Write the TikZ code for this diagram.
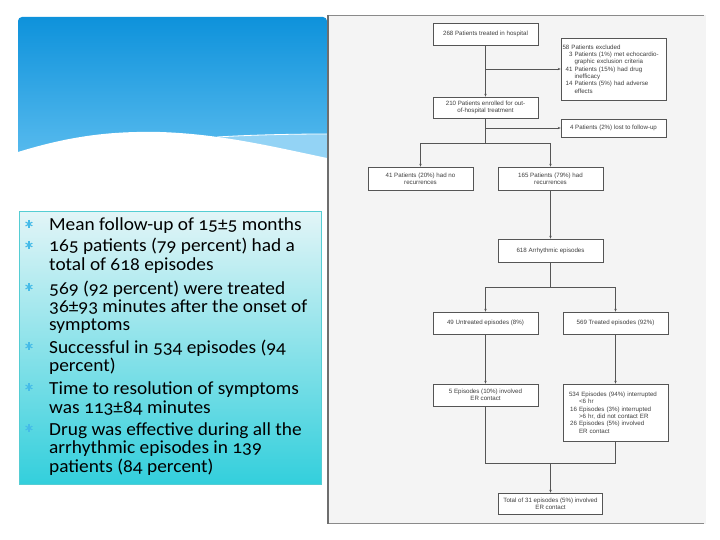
\documentclass[tikz,border=0pt]{standalone}
\usepackage{fontspec}
\setmainfont{Carlito}[Numbers=OldStyle, FakeStretch=1.05]
\newfontfamily\chartfont{Liberation Sans}
\usetikzlibrary{arrows.meta}
\definecolor{blueTop}{HTML}{0E92DB}
\definecolor{blueBot}{HTML}{5CBDEF}
\definecolor{stripBlue}{HTML}{93D3F5}
\definecolor{boxTop}{HTML}{E2F5F7}
\definecolor{boxBot}{HTML}{33CFDC}
\definecolor{boxEdge}{HTML}{55CDD3}
\definecolor{starBlue}{HTML}{45BBE8}
\definecolor{panelFill}{HTML}{F4F4F4}
\definecolor{panelEdge}{HTML}{8A8A8A}
\definecolor{chartLine}{HTML}{555555}
\definecolor{chartText}{HTML}{404040}
\begin{document}
\begin{tikzpicture}[x=1bp,y=-1bp,
  bl/.style={anchor=base west, inner sep=0pt, font=\fontsize{18.5}{20}\selectfont},
  star/.style={circle, inner sep=0pt, minimum size=9bp,
    path picture={\foreach \a in {90,30,-30}
      \draw[starBlue, line width=1.1bp] (path picture bounding box.center) ++(\a:4bp) -- ++(\a+180:8bp);}},
  fbox/.style={draw=chartLine, fill=white, line width=0.6bp, inner sep=1bp, align=center,
    text=chartText, font=\chartfont\fontsize{6.2}{7.4}\selectfont, minimum width=105bp},
  conn/.style={draw=chartLine, line width=0.6bp},
  arr/.style={conn, -{Stealth[length=3bp,width=2.4bp]}}]
\useasboundingbox (0,0) rectangle (720,540);
\fill[white] (0,0) rectangle (720,540);

% blue title band
\shade[top color=blueTop, bottom color=blueBot] (18,165) [rounded corners=4bp] -- (18,17) -- (327,17) [sharp corners] -- (327,165) -- cycle;
\fill[stripBlue] (217,137) .. controls (250,135) and (290,134) .. (327,134) -- (327,170) -- (217,170) -- cycle;
\draw[white, line width=0.8bp] (217,137) .. controls (250,135) and (290,134) .. (327,134);
\fill[white] (10,152) -- (18,152) .. controls (70,136) and (110,131) .. (160,132) .. controls (220,134) and (270,146) .. (327,158) -- (327,185) -- (10,185) -- cycle;

% text box
\shade[top color=boxTop, bottom color=boxBot] (19,212) rectangle (321,484);
\draw[boxEdge, line width=1bp] (19,212) rectangle (321,484);

\node[star] (s1) at (29,224) {};
\node[bl] (t1) at (49,231) {Mean follow-up of 15±5 months};
\node[star] (s2) at (29,245) {};
\node[bl] (t2a) at (49,252) {165 patients (79 percent) had a};
\node[bl] (t2b) at (49,271) {total of 618 episodes};
\node[star] (s3) at (29,287) {};
\node[bl] (t3a) at (49,294) {569 (92 percent) were treated};
\node[bl] (t3b) at (49,312) {36±93 minutes after the onset of};
\node[bl] (t3c) at (49,330) {symptoms};
\node[star] (s4) at (29,346) {};
\node[bl] (t4a) at (49,353) {Successful in 534 episodes (94};
\node[bl] (t4b) at (49,371) {percent)};
\node[star] (s5) at (29,387) {};
\node[bl] (t5a) at (49,394) {Time to resolution of symptoms};
\node[bl] (t5b) at (49,413) {was 113±84 minutes};
\node[star] (s6) at (29,428) {};
\node[bl] (t6a) at (49,435) {Drug was effective during all the};
\node[bl] (t6b) at (49,453) {arrhythmic episodes in 139};
\node[bl] (t6c) at (49,472) {patients (84 percent)};

% flowchart panel
\fill[panelFill] (327,15) rectangle (706,524);
\draw[panelEdge, line width=0.8bp] (327,15.4) -- (704,15.4);
\draw[panelEdge, line width=0.8bp] (327,523.6) -- (704,523.6);
\draw[panelEdge!80!black, line width=2.2bp] (328.1,15) -- (328.1,524);

\node[fbox, minimum height=22bp] (b1) at (485.5,34) {268 Patients treated in hospital};
\node[fbox, minimum height=62bp, align=left, text width=102bp, inner xsep=1.5bp] (ex) at (613.5,69) {58 Patients excluded\\
\makebox[10bp][r]{3} Patients (1\%) met echocardio-\\
\hspace*{12bp}graphic exclusion criteria\\
\makebox[10bp][r]{41} Patients (15\%) had drug\\
\hspace*{12bp}inefficacy\\
\makebox[10bp][r]{14} Patients (5\%) had adverse\\
\hspace*{12bp}effects};
\node[fbox, minimum height=21bp] (b2) at (485.5,107.5) {210 Patients enrolled for out-\\of-hospital treatment};
\node[fbox, minimum height=18bp] (lost) at (613.5,128) {4 Patients (2\%) lost to follow-up};
\node[fbox, minimum height=23bp] (n41) at (420.5,178.5) {41 Patients (20\%) had no\\recurrences};
\node[fbox, minimum height=23bp] (n165) at (550.5,178.5) {165 Patients (79\%) had\\recurrences};
\node[fbox, minimum height=23bp] (n618) at (550.5,250.5) {618 Arrhythmic episodes};
\node[fbox, minimum height=22bp] (n49) at (485.5,323) {49 Untreated episodes (8\%)};
\node[fbox, minimum height=22bp] (n569) at (615.5,323) {569 Treated episodes (92\%)};
\node[fbox, minimum height=22bp] (n5) at (485.5,395) {5 Episodes (10\%) involved\\ER contact};
\node[fbox, minimum height=57bp, align=left, text width=93bp, inner xsep=6bp] (n534) at (615.5,412.5) {534 Episodes (94\%) interrupted\\
\hspace*{10bp}<6 hr\\
\makebox[8bp][r]{16} Episodes (3\%) interrupted\\
\hspace*{10bp}>6 hr, did not contact ER\\
\makebox[8bp][r]{26} Episodes (5\%) involved\\
\hspace*{10bp}ER contact};
\node[fbox, minimum height=21bp, minimum width=104bp] (tot) at (550.5,503.5) {Total of 31 episodes (5\%) involved\\ER contact};

\coordinate (j1) at (485.5,143);
\coordinate (j2) at (550.5,287);
\coordinate (j3) at (550.5,463);

\draw[arr] (b1.south) -- (b2.north);
\draw[arr] (b1.south |- ex.west) -- (ex.west);
\draw[conn] (b2.south) -- (j1);
\draw[arr] (b2.south |- lost.west) -- (lost.west);
\draw[arr] (j1) -| (n41.north);
\draw[arr] (j1) -| (n165.north);
\draw[arr] (n165.south) -- (n618.north);
\draw[conn] (n618.south) -- (j2);
\draw[arr] (j2) -| (n49.north);
\draw[arr] (j2) -| (n569.north);
\draw[arr] (n49.south) -- (n5.north);
\draw[arr] (n569.south) -- (n534.north);
\draw[conn] (n5.south) |- (j3);
\draw[conn] (n534.south) |- (j3);
\draw[arr] (j3) -- (tot.north);
\end{tikzpicture}
\end{document}
